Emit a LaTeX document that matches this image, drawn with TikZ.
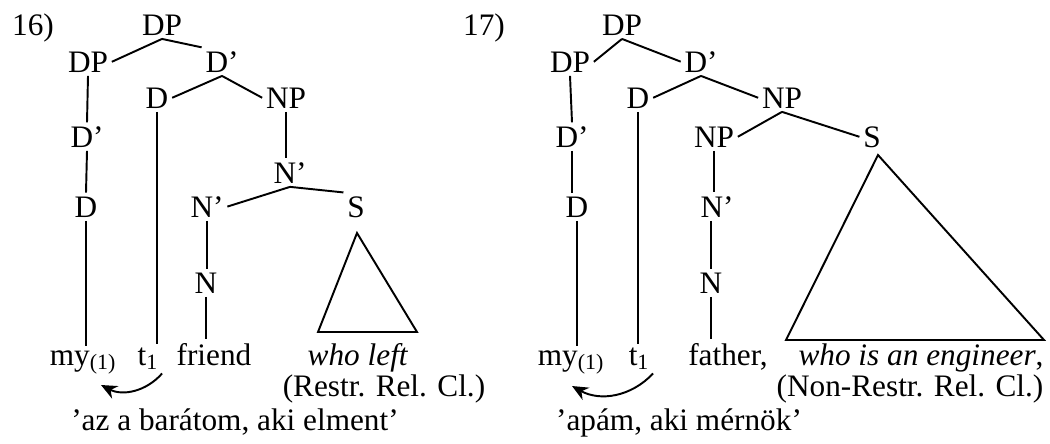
\documentclass[tikz,border=0pt]{standalone}
\usepackage{fontspec}
\setmainfont{Liberation Serif}
\usetikzlibrary{arrows.meta}
\tikzset{
  >={Stealth[length=3.2mm,width=2.8mm]},
  cat/.style={inner sep=2pt,anchor=base},
  leaf/.style={inner sep=2pt,anchor=base},
  branch/.style={line width=1.1pt},
  move/.style={->,line width=1.1pt,bend left=38},
}

\begin{document}
\begin{tikzpicture}[x=0.02cm,y=-0.02cm,font=\fontsize{17.8}{21}\selectfont]
  \useasboundingbox (0,0) rectangle (1050,443);
  % tree 16: restrictive clause
  \node[cat] (num16)      at (33,35)   {16)};
  \node[cat] (dp16)       at (162,35)  {DP};
  \node[cat] (spec16)     at (88,72)   {DP};
  \node[cat] (dbar16)     at (222,72)  {D’};
  \node[cat] (d16)        at (157,108) {D};
  \node[cat] (np16)       at (286,108) {NP};
  \node[cat] (specbar16)  at (87,147)  {D’};
  \node[cat] (nbarA16)    at (290,183) {N’};
  \node[cat] (spechead16) at (86,217)  {D};
  \node[cat] (nbarB16)    at (207,217) {N’};
  \node[cat] (s16)        at (356,217) {S};
  \node[cat] (n16)        at (206,293) {N};
  % leaves
  \node[leaf] (my16)     at (83,365)  {my\textsubscript{(1)}};
  \node[leaf] (tr16)     at (148,365) {t\textsubscript{1}};
  \node[leaf] (friend16) at (214,365) {friend};
  \node[leaf] (rel16)    at (358,365) {\textit{who left}};
  \node[leaf] (relcl16)  at (384,396) {(Restr. Rel. Cl.)};
  \node[leaf] (gloss16)  at (235,430) {’az a barátom, aki elment’};
  \coordinate (tip16) at (101,385);

  \draw[branch] (dp16.south) -- (spec16.east);
  \draw[branch] (dp16.south) -- (dbar16.north west);
  \draw[branch] (spec16.south) -- (specbar16.north);
  \draw[branch] (specbar16.south) -- (spechead16.north);
  \draw[branch] (spechead16.south) -- (spechead16.south |- my16.north);
  \draw[branch] (dbar16.south) -- (d16.east);
  \draw[branch] (dbar16.south) -- (np16.west);
  \draw[branch] (d16.south) -- (d16.south |- tr16.north);
  \draw[branch] (np16.south) -- (np16.south |- nbarA16.north);
  \draw[branch] (nbarA16.south) -- (nbarB16.east);
  \draw[branch] (nbarA16.south) -- (s16.north west);
  \draw[branch] (nbarB16.south) -- (nbarB16.south |- n16.north);
  \draw[branch] (n16.south) -- (n16.south |- friend16.north);
  \draw[branch] (357,233) -- (318,332) -- (417,332) -- cycle;
  \draw[move] (tr16.south east) to (tip16);

  % tree 17: non-restrictive clause
  \node[cat] (num17)      at (484,35)  {17)};
  \node[cat] (dp17)       at (622,35)  {DP};
  \node[cat] (spec17)     at (570,72)  {DP};
  \node[cat] (dbar17)     at (701,72)  {D’};
  \node[cat] (d17)        at (638,108) {D};
  \node[cat] (np17)       at (782,108) {NP};
  \node[cat] (specbar17)  at (572,147) {D’};
  \node[cat] (npB17)      at (714,147) {NP};
  \node[cat] (s17)        at (872,147) {S};
  \node[cat] (spechead17) at (577,217) {D};
  \node[cat] (nbar17)     at (717,217) {N’};
  \node[cat] (n17)        at (711,293) {N};
  % leaves
  \node[leaf] (my17)     at (571,365) {my\textsubscript{(1)}};
  \node[leaf] (tr17)     at (639,365) {t\textsubscript{1}};
  \node[leaf] (father17) at (728,365) {father,};
  \node[leaf] (rel17)    at (921,365) {\textit{who is an engineer},};
  \node[leaf] (relcl17)  at (910,396) {(Non-Restr. Rel. Cl.)};
  \node[leaf] (gloss17)  at (679,430) {’apám, aki mérnök’};
  \coordinate (tip17) at (572,386);

  \draw[branch] (dp17.south) -- (spec17.east);
  \draw[branch] (dp17.south) -- (dbar17.west);
  \draw[branch] (spec17.south) -- (specbar17.north);
  \draw[branch] (specbar17.south) -- (specbar17.south |- spechead17.north);
  \draw[branch] (spechead17.south) -- (spechead17.south |- my17.north);
  \draw[branch] (dbar17.south) -- (d17.east);
  \draw[branch] (dbar17.south) -- (np17.west);
  \draw[branch] (d17.south) -- (d17.south |- tr17.north);
  \draw[branch] (np17.south) -- (npB17.east);
  \draw[branch] (np17.south) -- (s17.west);
  \draw[branch] (npB17.south) -- (npB17.south |- nbar17.north);
  \draw[branch] (n17.north |- nbar17.south) -- (n17.north);
  \draw[branch] (n17.south) -- (n17.south |- father17.north);
  \draw[branch] (878,155) -- (786,340) -- (1044,340) -- cycle;
  \draw[move] (tr17.south east) to (tip17);
\end{tikzpicture}
\end{document}
